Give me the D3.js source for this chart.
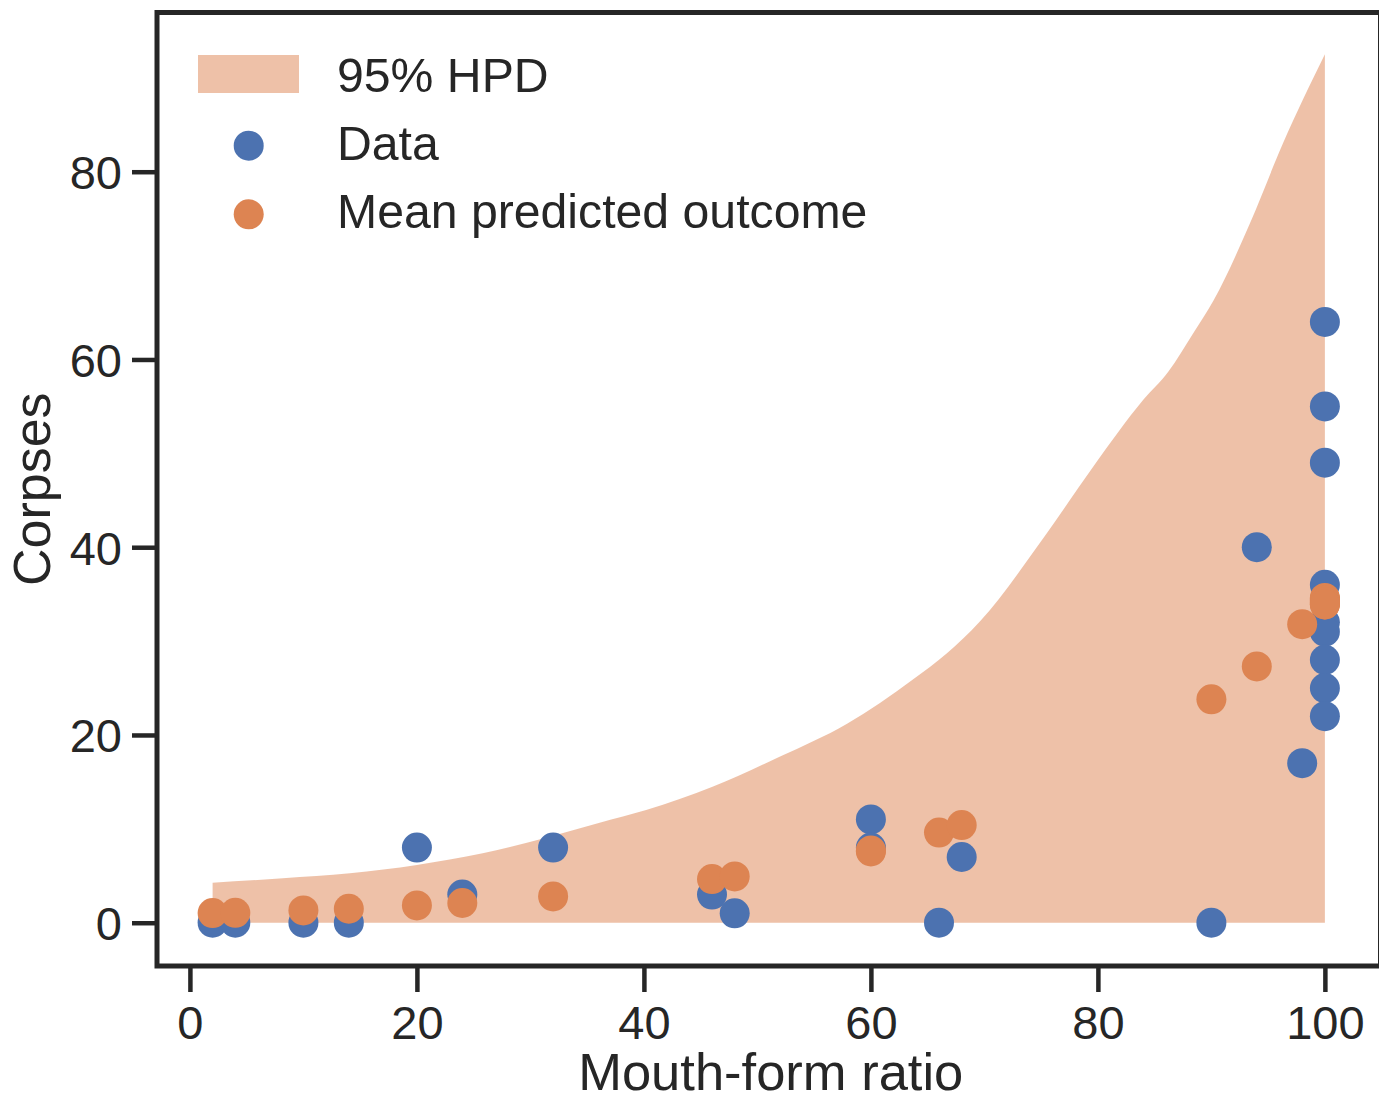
<!DOCTYPE html>
<html>
<head>
<meta charset="utf-8">
<script src="https://cdn.jsdelivr.net/npm/d3@7"></script>
<style>
  html, body { margin: 0; padding: 0; background: #ffffff; }
  svg { display: block; }
  text { font-family: "Liberation Sans", Arial, sans-serif; fill: #262626; }
</style>
</head>
<body>
<svg id="chart" width="1379" height="1098"></svg>
<script>
// Observed mouth-form ratio and corpse counts
const obsRatio = [2, 4, 10, 14, 20, 24, 32, 46, 48, 60, 60, 66, 68, 90, 94, 98,
                  100, 100, 100, 100, 100, 100, 100, 100, 100];
const obsCorpses = [0, 0, 0, 0, 8, 3, 8, 3, 1, 11, 8, 0, 7, 0, 40, 17,
                    64, 55, 49, 36, 32, 31, 28, 25, 22];
// Posterior mean predicted outcome for each observation
const predMean = [1.03, 1.05, 1.31, 1.49, 1.84, 2.1, 2.8, 4.65, 4.93, 7.7, 7.6, 9.6, 10.4, 23.8, 27.3, 31.8,
                  34.6, 34.4, 34.2, 34.0, 33.9, 34.5, 34.3, 34.1, 33.9];
// 95% HPD band of the posterior predictive
const hpdX    = [2, 8.2, 14.1, 20, 25.8, 31.7, 36.1, 40.2, 46.1, 52, 57.9, 60.8, 63.7, 66.7, 69.6,
                 75.5, 79.6, 84, 86.2, 88.4, 90.2, 93.4, 96.3, 100];
const hpdHigh = [4.26, 4.73, 5.26, 6.15, 7.39, 9.16, 10.65, 12.0, 14.5, 17.7, 21.2, 23.4, 25.9, 28.7, 32.1,
                 41.5, 48.6, 55.7, 58.7, 62.8, 66.3, 74.5, 83.0, 92.5];
const hpdLow  = [0, 0, 0, 0, 0, 0, 0, 0, 0, 0, 0, 0, 0, 0, 0,
                 0, 0, 0, 0, 0, 0, 0, 0, 0];
const xTicks = [0, 20, 40, 60, 80, 100];
const yTicks = [0, 20, 40, 60, 80];
const legendLabels = ["95% HPD", "Data", "Mean predicted outcome"];

const BLUE = "#4c72b0", ORANGE = "#dd8452", INK = "#262626";
const plotL = 157, plotR = 1380.5, plotT = 12.5, plotB = 966;

const svg = d3.select("#chart");
const x = d3.scaleLinear().domain([-2.9, 104.9]).range([plotL, plotR]);
const y = d3.scaleLinear().domain([-4.61, 96.96]).range([plotB, plotT]);

// HPD band
const band = hpdX.map((v, i) => ({ x: v, lo: hpdLow[i], hi: hpdHigh[i] }));
svg.append("path")
  .datum(band)
  .attr("fill", ORANGE)
  .attr("fill-opacity", 0.5)
  .attr("d", d3.area().curve(d3.curveMonotoneX)
    .x(d => x(d.x)).y0(d => y(d.lo)).y1(d => y(d.hi)));

// Observed data
svg.append("g").selectAll("circle")
  .data(obsRatio.map((v, i) => [v, obsCorpses[i]]))
  .join("circle")
  .attr("cx", d => x(d[0])).attr("cy", d => y(d[1])).attr("r", 15)
  .attr("fill", BLUE);

// Mean predicted outcome
svg.append("g").selectAll("circle")
  .data(obsRatio.map((v, i) => [v, predMean[i]]))
  .join("circle")
  .attr("cx", d => x(d[0])).attr("cy", d => y(d[1])).attr("r", 15)
  .attr("fill", ORANGE);

// Axes
const xAxis = svg.append("g").attr("transform", `translate(0,${plotB})`)
  .call(d3.axisBottom(x).tickValues(xTicks).tickSize(26).tickPadding(0));
const yAxis = svg.append("g").attr("transform", `translate(${plotL},0)`)
  .call(d3.axisLeft(y).tickValues(yTicks).tickSize(25).tickPadding(0));
[xAxis, yAxis].forEach(g => {
  g.select(".domain").remove();
  g.selectAll(".tick line").attr("stroke", INK).attr("stroke-width", 4.5);
  g.selectAll(".tick text").attr("font-size", 47).attr("fill", INK)
    .style("font-family", '"Liberation Sans", Arial, sans-serif');
});
xAxis.selectAll(".tick text").attr("y", 73).attr("dy", 0);
yAxis.selectAll(".tick text").attr("x", -35).attr("dy", "0.36em");

// Frame
svg.append("rect")
  .attr("x", plotL).attr("y", plotT)
  .attr("width", plotR - plotL).attr("height", plotB - plotT)
  .attr("fill", "none").attr("stroke", INK).attr("stroke-width", 5);

// Axis labels
svg.append("text")
  .attr("x", (plotL + plotR) / 2 + 2).attr("y", 1090)
  .attr("text-anchor", "middle").attr("font-size", 52.5)
  .text("Mouth-form ratio");
svg.append("text")
  .attr("transform", `translate(50,${(plotT + plotB) / 2}) rotate(-90)`)
  .attr("text-anchor", "middle").attr("font-size", 52)
  .text("Corpses");

// Legend
const lg = svg.append("g").attr("transform", "translate(198,0)");
lg.append("rect").attr("x", 0).attr("y", 55).attr("width", 101).attr("height", 38)
  .attr("fill", ORANGE).attr("fill-opacity", 0.5);
lg.append("circle").attr("cx", 50.7).attr("cy", 145.7).attr("r", 15).attr("fill", BLUE);
lg.append("circle").attr("cx", 50.7).attr("cy", 214.3).attr("r", 15).attr("fill", ORANGE);
const baselines = [92, 159.5, 228];
legendLabels.forEach((t, i) => {
  lg.append("text").attr("x", 139).attr("y", baselines[i])
    .attr("font-size", 48.2).text(t);
});
</script>
</body>
</html>
